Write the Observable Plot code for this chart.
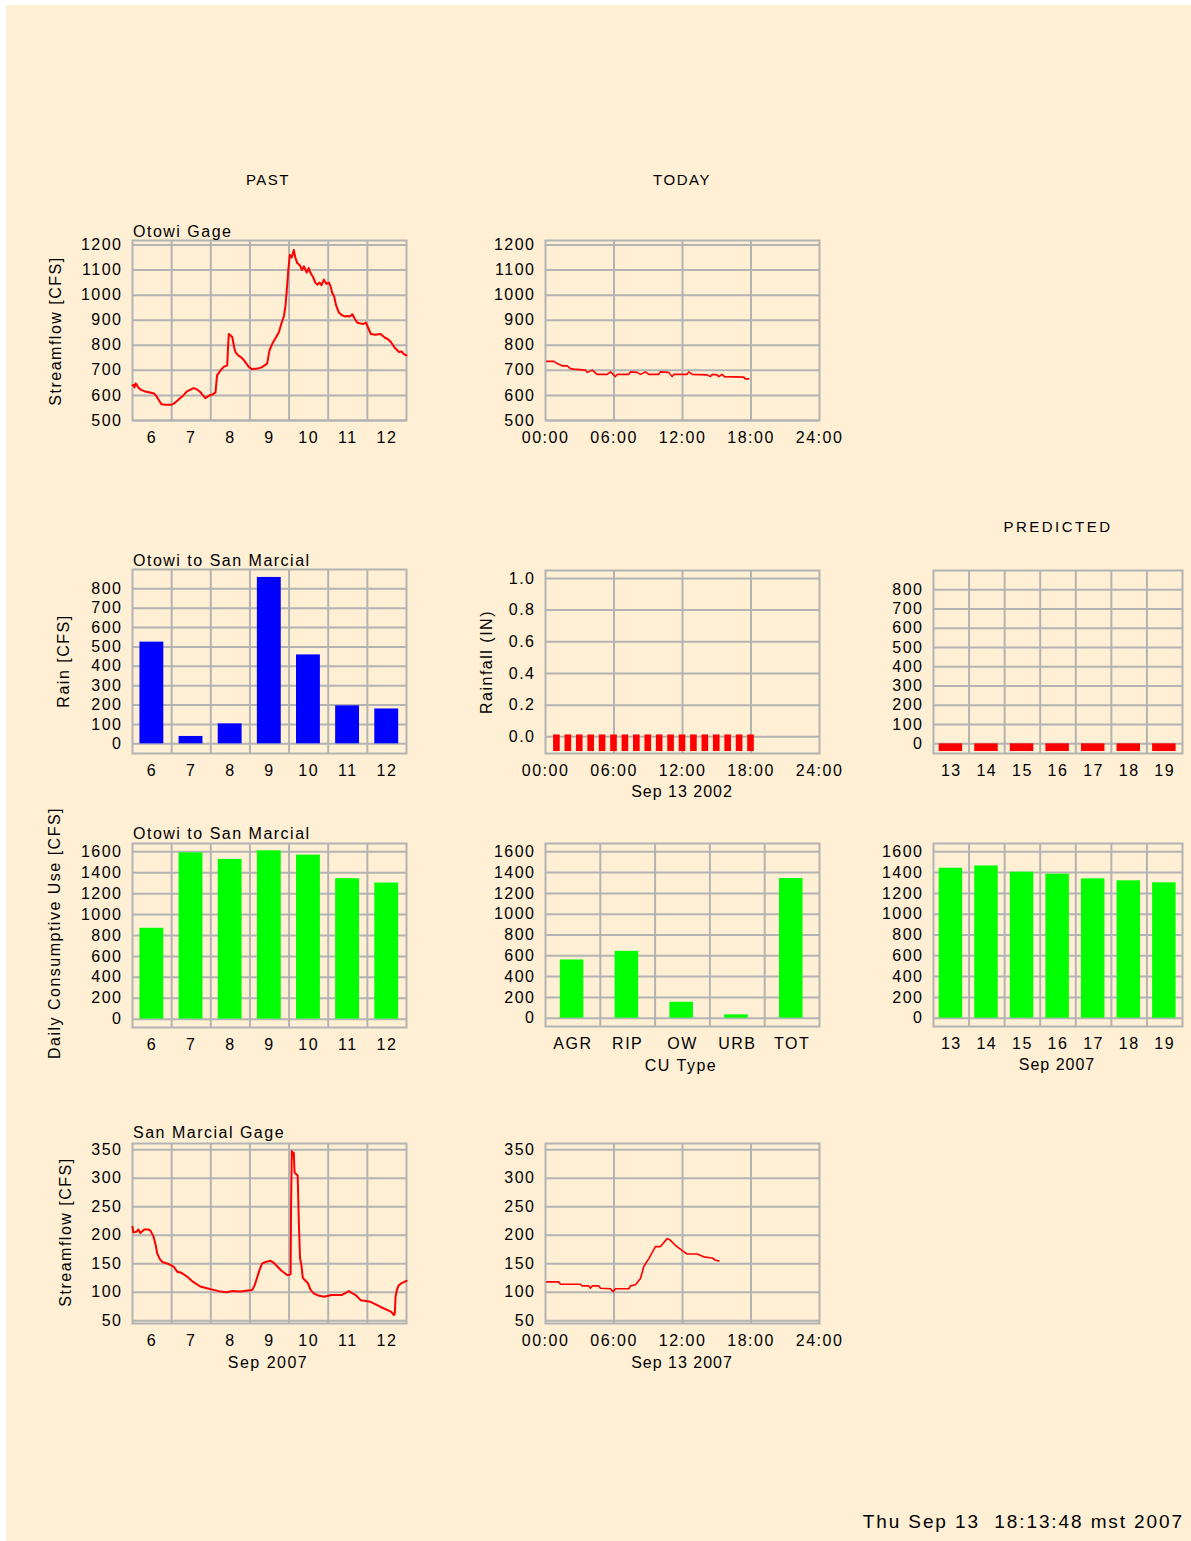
<!DOCTYPE html>
<html>
<head>
<meta charset="utf-8">
<script src="https://cdn.jsdelivr.net/npm/d3@7"></script>
<script src="https://cdn.jsdelivr.net/npm/@observablehq/plot@0.6"></script>
<style>
  html, body { margin: 0; padding: 0; background: #ffffff; }
  #root { position: relative; width: 1191px; height: 1541px; overflow: hidden; }
  #paper { position: absolute; left: 6px; top: 5px; right: 0; bottom: 0; background: #FFEFD5; }
  #root svg { display: block; }
</style>
</head>
<body>
<div id="root"><div id="paper"></div></div>
<script>
// ---------------- DATA ----------------
// Otowi Gage streamflow, past 7 days (day of month, fractional) [CFS]
const otowiPastDay = [6.00,6.03,6.05,6.08,6.12,6.16,6.22,6.32,6.45,6.55,6.62,6.74,6.85,7.00,7.06,7.15,7.22,7.30,7.39,7.47,7.56,7.64,7.73,7.80,7.86,7.93,7.99,8.05,8.12,8.16,8.25,8.33,8.42,8.44,8.46,8.50,8.55,8.60,8.63,8.70,8.76,8.85,8.97,9.05,9.19,9.30,9.44,9.50,9.57,9.66,9.74,9.80,9.87,9.91,9.95,9.98,10.02,10.07,10.12,10.16,10.21,10.28,10.33,10.38,10.45,10.50,10.55,10.62,10.67,10.72,10.78,10.83,10.89,10.95,11.02,11.06,11.10,11.15,11.20,11.27,11.35,11.42,11.49,11.55,11.62,11.68,11.74,11.80,11.90,11.96,12.02,12.09,12.20,12.34,12.45,12.52,12.60,12.70,12.81,12.88,12.93,13.00];
const otowiPastCfs = [640,642,632,648,640,629,622,616,612,608,595,565,563,563,568,580,590,600,616,622,629,625,614,600,589,596,602,604,612,680,700,714,720,790,845,840,832,790,773,760,754,740,714,705,707,712,727,780,806,830,852,885,917,960,1036,1100,1161,1150,1180,1150,1128,1118,1100,1115,1090,1108,1088,1070,1050,1042,1050,1040,1062,1045,1050,1036,1010,996,960,931,920,915,917,915,924,905,891,888,885,891,870,845,842,845,830,825,813,790,773,775,765,760];

// Otowi Gage streamflow, today (hour) [CFS]
const otowiTodayHour = [0.1,0.73,1.02,1.46,1.9,2.19,2.48,3.5,3.65,4.09,4.53,5.4,5.69,6.13,6.28,7.3,7.44,8.03,8.32,8.76,9.05,9.92,10.07,10.8,11.09,11.24,12.4,12.55,12.85,14.16,14.45,14.6,15.03,15.18,15.47,15.67,17.37,17.5,17.8];
const otowiTodayCfs  = [736,736,727,718,718,707,705,701,692,701,684,684,694,675,684,684,694,692,684,694,684,684,694,692,675,684,684,694,684,682,675,684,682,675,684,675,673,666,666];

// Rain, Otowi to San Marcial, past days [CFS]
const pastDays = [6, 7, 8, 9, 10, 11, 12];
const rainPast = [525, 38, 103, 859, 459, 196, 180];

// Rainfall today (hourly) [IN]
const rainfallHours = [1,2,3,4,5,6,7,8,9,10,11,12,13,14,15,16,17,18];
const rainfallToday = [0,0,0,0,0,0,0,0,0,0,0,0,0,0,0,0,0,0];

// Predicted rain [CFS]
const predDays = [13, 14, 15, 16, 17, 18, 19];
const rainPred = [0, 0, 0, 0, 0, 0, 0];

// Daily consumptive use [CFS]
const cuPast = [869, 1591, 1528, 1610, 1569, 1343, 1302];
const cuTypes = ["AGR", "RIP", "OW", "URB", "TOT"];
const cuToday = [560, 643, 153, 32, 1343];
const cuPred = [1442, 1464, 1404, 1385, 1340, 1321, 1302];

// San Marcial Gage streamflow, past 7 days [CFS]
const smPastDay = [6.00,6.02,6.10,6.15,6.20,6.30,6.40,6.46,6.54,6.60,6.63,6.70,6.76,6.90,7.05,7.10,7.14,7.25,7.40,7.55,7.73,7.90,8.07,8.25,8.41,8.55,8.76,8.95,9.06,9.12,9.19,9.25,9.31,9.40,9.53,9.60,9.70,9.80,9.95,10.00,10.04,10.05,10.07,10.10,10.12,10.14,10.22,10.25,10.28,10.32,10.35,10.42,10.48,10.55,10.63,10.75,10.89,11.09,11.34,11.53,11.62,11.70,11.83,12.08,12.34,12.60,12.68,12.70,12.72,12.76,12.80,12.88,12.95,13.00];
const smPastCfs = [215,205,206,210,204,210,210,208,197,180,168,158,153,150,145,140,136,134,127,118,110,107,104,101,100,102,101,103,104,112,127,140,150,153,155,152,145,138,130,130,132,250,348,340,345,310,305,221,160,145,125,120,116,104,98,94,92,95,95,102,98,95,86,83,74,66,60,62,92,105,112,116,118,120];

// San Marcial Gage streamflow, today (hour) [CFS]
const smTodayHour = [0.1,1.17,1.31,3.06,3.21,3.8,3.94,4.09,4.67,4.82,5.69,5.93,6.13,7.3,7.44,7.88,8.32,8.61,9.05,9.63,10.07,10.66,10.95,11.39,11.97,12.4,13.28,13.86,14.6,14.89,15.18];
const smTodayCfs  = [118,118,114,114,111,111,107,111,111,107,106,101,106,106,111,113,124,145,159,180,180,194,191,182,173,167,167,162,160,156,155];

// Tick values
const flowOtowiTicks = [500,600,700,800,900,1000,1100,1200];
const rainTicks = [0,100,200,300,400,500,600,700,800];
const rainfallTicks = [0,0.2,0.4,0.6,0.8,1.0];
const cuTicks = [0,200,400,600,800,1000,1200,1400,1600];
const smTicks = [50,100,150,200,250,300,350];
const hourTicks = [0,6,12,18,24];

// ---------------- STYLE ----------------
const FONT = '"Liberation Sans", Arial, Helvetica, sans-serif';
const GRID = "#b3b3b3";
const root = document.getElementById("root");

const zip = (xs, ys, kx, ky) => xs.map((x, i) => ({[kx]: x, [ky]: ys[i]}));

function panel({L, T, W, H, mL = 70, mR = 30, mT = 6, mB = 30, x, y, marks}) {
  const p = Plot.plot({
    width: W + mL + mR, height: H + mT + mB,
    marginLeft: mL, marginRight: mR, marginTop: mT, marginBottom: mB,
    x, y,
    style: {fontFamily: FONT, fontSize: "16px", letterSpacing: "1.5px", background: "transparent", color: "#000", overflow: "visible"},
    marks
  });
  p.style.position = "absolute";
  p.style.left = (L - mL) + "px";
  p.style.top = (T - mT) + "px";
  root.appendChild(p);
  return p;
}

const gridY = v => Plot.gridY(v, {stroke: GRID, strokeOpacity: 1, strokeWidth: 2});
const gridX = v => Plot.gridX(v, {stroke: GRID, strokeOpacity: 1, strokeWidth: 2});
const frame = () => Plot.frame({stroke: GRID, strokeWidth: 2});
const axY = (v, fmt = d => String(d)) => Plot.axisY(v, {tickSize: 0, tickPadding: 10, tickFormat: fmt, label: null, fill: "#000", fontSize: 16});
const axX = (v, fmt) => Plot.axisX(v, {tickSize: 0, tickPadding: 11, tickFormat: fmt, label: null, fill: "#000", fontSize: 16});
const dayFmt = d => String(Math.floor(d));
const hourFmt = d => String(d).padStart(2, "0") + ":00";
const dayGrid = [7, 8, 9, 10, 11, 12];
const dayLabels = pastDays.map(d => d + 0.5);
const predGrid = [14, 15, 16, 17, 18, 19];
const predLabels = predDays.map(d => d + 0.5);

// ---------------- ROW 1: Otowi Gage ----------------
panel({
  L: 132, T: 240, W: 274, H: 180,
  x: {domain: [6, 13]}, y: {domain: [500, 1218]},
  marks: [
    gridY(flowOtowiTicks), gridX(dayGrid), frame(),
    Plot.line(zip(otowiPastDay, otowiPastCfs, "day", "cfs"), {x: "day", y: "cfs", stroke: "#ff0000", strokeWidth: 2}),
    axY(flowOtowiTicks), axX(dayLabels, dayFmt)
  ]
});
panel({
  L: 545, T: 240, W: 274, H: 180,
  x: {domain: [0, 24]}, y: {domain: [500, 1218]},
  marks: [
    gridY(flowOtowiTicks), gridX([6, 12, 18]), frame(),
    Plot.line(zip(otowiTodayHour, otowiTodayCfs, "h", "cfs"), {x: "h", y: "cfs", stroke: "#ff0000", strokeWidth: 1.6}),
    axY(flowOtowiTicks), axX(hourTicks, hourFmt)
  ]
});

// ---------------- ROW 2: Rain ----------------
const rainDom = [-50, 900];
panel({
  L: 132, T: 569, W: 274, H: 184,
  x: {domain: [6, 13]}, y: {domain: rainDom},
  marks: [
    gridY(rainTicks), gridX(dayGrid), frame(),
    Plot.rectY(zip(pastDays, rainPast, "day", "v"), {x1: d => d.day + 0.19, x2: d => d.day + 0.8, y1: 0, y2: "v", fill: "#0000ff"}),
    axY(rainTicks), axX(dayLabels, dayFmt)
  ]
});
const rainfallDom = [-0.105, 1.05];
panel({
  L: 545, T: 570, W: 274, H: 183,
  x: {domain: [0, 24]}, y: {domain: rainfallDom},
  marks: [
    gridY(rainfallTicks), gridX([6, 12, 18]), frame(),
    Plot.rectY(zip(rainfallHours, rainfallToday, "h", "v"), {x1: d => d.h - 0.29, x2: d => d.h + 0.29, y1: rainfallDom[0], y2: d => d.v + 0.012, insetBottom: 2, fill: "#ff0000"}),
    axY(rainfallTicks, d3.format(".1f")), axX(hourTicks, hourFmt)
  ]
});
panel({
  L: 933, T: 570, W: 249, H: 183, mR: 9,
  x: {domain: [13, 20]}, y: {domain: rainDom},
  marks: [
    gridY(rainTicks), gridX(predGrid), frame(),
    Plot.rectY(zip(predDays, rainPred, "day", "v"), {x1: d => d.day + 0.16, x2: d => d.day + 0.82, y1: rainDom[0], y2: "v", insetBottom: 2, fill: "#ff0000"}),
    axY(rainTicks), axX(predLabels, dayFmt)
  ]
});

// ---------------- ROW 3: Consumptive use ----------------
const cuDom = [-80, 1680];
panel({
  L: 132, T: 843, W: 274, H: 184,
  x: {domain: [6, 13]}, y: {domain: cuDom},
  marks: [
    gridY(cuTicks), gridX(dayGrid), frame(),
    Plot.rectY(zip(pastDays, cuPast, "day", "v"), {x1: d => d.day + 0.19, x2: d => d.day + 0.8, y1: 0, y2: "v", fill: "#00ff00"}),
    axY(cuTicks), axX(dayLabels, dayFmt)
  ]
});
panel({
  L: 545, T: 843, W: 274, H: 183,
  x: {domain: [0, cuTypes.length]}, y: {domain: cuDom},
  marks: [
    gridY(cuTicks), gridX(d3.range(1, cuTypes.length)), frame(),
    Plot.rectY(cuTypes.map((t, i) => ({i, v: cuToday[i]})), {x1: d => d.i + 0.27, x2: d => d.i + 0.7, y1: 0, y2: "v", fill: "#00ff00"}),
    axY(cuTicks), axX(cuTypes.map((t, i) => i + 0.5), d => cuTypes[Math.floor(d)])
  ]
});
panel({
  L: 933, T: 843, W: 249, H: 183, mR: 9,
  x: {domain: [13, 20]}, y: {domain: cuDom},
  marks: [
    gridY(cuTicks), gridX(predGrid), frame(),
    Plot.rectY(zip(predDays, cuPred, "day", "v"), {x1: d => d.day + 0.16, x2: d => d.day + 0.82, y1: 0, y2: "v", fill: "#00ff00"}),
    axY(cuTicks), axX(predLabels, dayFmt)
  ]
});

// ---------------- ROW 4: San Marcial Gage ----------------
const smDom = [45, 361];
panel({
  L: 132, T: 1143, W: 274, H: 180,
  x: {domain: [6, 13]}, y: {domain: smDom},
  marks: [
    gridY(smTicks), gridX(dayGrid), frame(),
    Plot.line(zip(smPastDay, smPastCfs, "day", "cfs"), {x: "day", y: "cfs", stroke: "#ff0000", strokeWidth: 2}),
    axY(smTicks), axX(dayLabels, dayFmt)
  ]
});
panel({
  L: 545, T: 1143, W: 274, H: 180,
  x: {domain: [0, 24]}, y: {domain: smDom},
  marks: [
    gridY(smTicks), gridX([6, 12, 18]), frame(),
    Plot.line(zip(smTodayHour, smTodayCfs, "h", "cfs"), {x: "h", y: "cfs", stroke: "#ff0000", strokeWidth: 1.6}),
    axY(smTicks), axX(hourTicks, hourFmt)
  ]
});

// ---------------- TEXT LABELS ----------------
const labels = [
  {t: "PAST", x: 268, y: 185, a: "middle", s: 15, ls: 1.5},
  {t: "TODAY", x: 682, y: 185, a: "middle", s: 15, ls: 1.5},
  {t: "PREDICTED", x: 1058, y: 532, a: "middle", s: 15, ls: 2.5},
  {t: "Otowi Gage", x: 133, y: 237, a: "start", s: 16, ls: 1.5},
  {t: "Otowi to San Marcial", x: 133, y: 566, a: "start", s: 16, ls: 1.5},
  {t: "Otowi to San Marcial", x: 133, y: 839, a: "start", s: 16, ls: 1.5},
  {t: "San Marcial Gage", x: 133, y: 1138, a: "start", s: 16, ls: 1.5},
  {t: "Sep 13 2002", x: 682, y: 797, a: "middle", s: 16, ls: 1},
  {t: "CU Type", x: 681, y: 1071, a: "middle", s: 16, ls: 1.5},
  {t: "Sep 2007", x: 1057, y: 1070, a: "middle", s: 16, ls: 1},
  {t: "Sep 2007", x: 268, y: 1368, a: "middle", s: 16, ls: 1.5},
  {t: "Sep 13 2007", x: 682, y: 1368, a: "middle", s: 16, ls: 1},
  {t: "Thu Sep 13  18:13:48 mst 2007", x: 1184, y: 1528, a: "end", s: 19, ls: 1.9},
  {t: "Streamflow [CFS]", x: 61, y: 331, a: "middle", s: 16, ls: 1.5, r: true},
  {t: "Rain [CFS]", x: 69, y: 661, a: "middle", s: 16, ls: 1.5, r: true},
  {t: "Rainfall (IN)", x: 492, y: 662, a: "middle", s: 16, ls: 1.5, r: true},
  {t: "Daily Consumptive Use [CFS]", x: 60, y: 933, a: "middle", s: 16, ls: 1.5, r: true},
  {t: "Streamflow [CFS]", x: 71, y: 1232, a: "middle", s: 16, ls: 1.5, r: true}
];
const overlay = d3.select(root).append("svg")
  .attr("width", 1191).attr("height", 1541)
  .style("position", "absolute").style("left", "0px").style("top", "0px")
  .style("pointer-events", "none").style("font-family", FONT);
overlay.selectAll("text").data(labels).join("text")
  .attr("transform", d => `translate(${d.x},${d.y})` + (d.r ? " rotate(-90)" : ""))
  .attr("text-anchor", d => d.a)
  .attr("fill", "#000")
  .style("font-size", d => d.s + "px")
  .style("letter-spacing", d => d.ls + "px")
  .style("white-space", "pre")
  .text(d => d.t);
</script>
</body>
</html>
